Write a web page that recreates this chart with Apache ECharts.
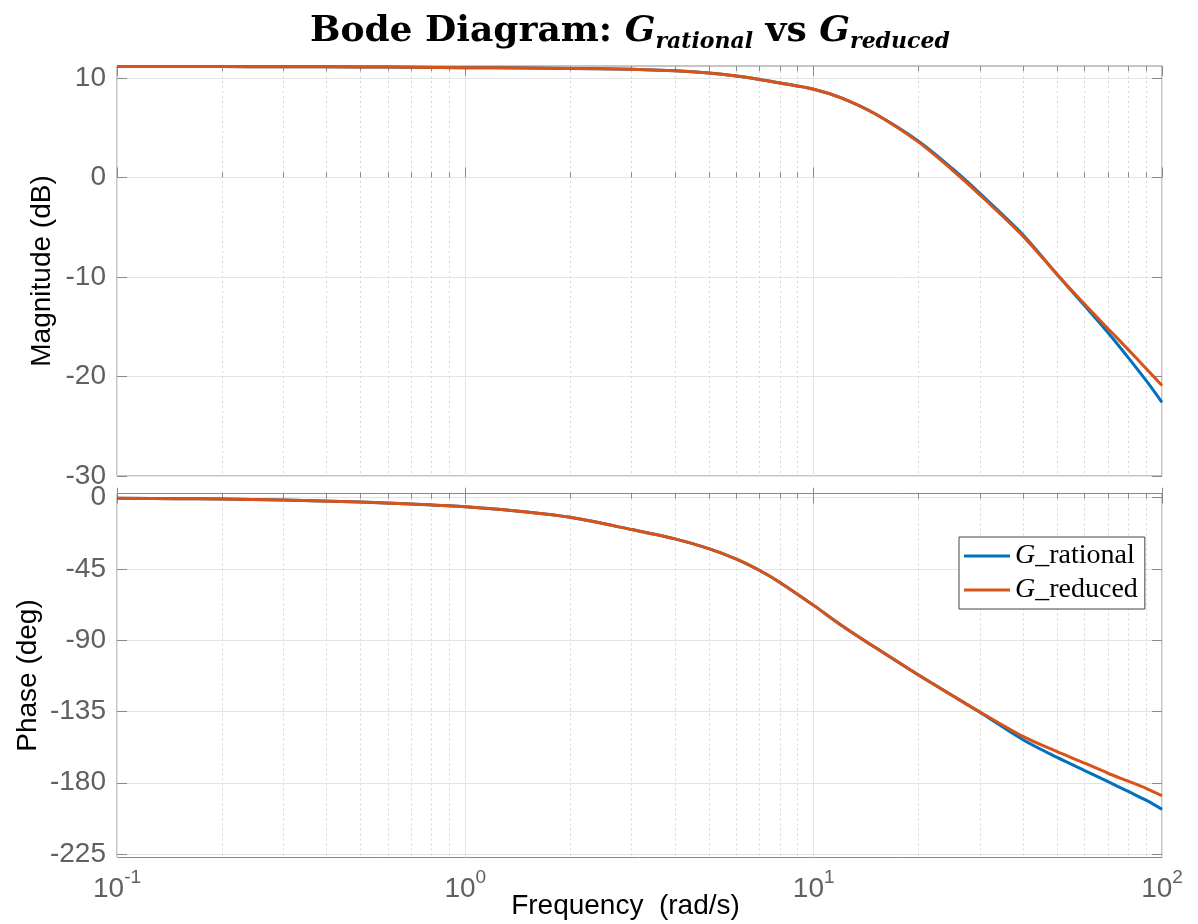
<!DOCTYPE html>
<html><head><meta charset="utf-8">
<script src="https://cdn.jsdelivr.net/npm/echarts@6/dist/echarts.min.js"></script>
<style>html,body{margin:0;padding:0;background:#fff}#c{width:1198px;height:924px}</style>
</head><body><div id="c"></div><script>
// ---- data ----
const freq = [0.1,0.15,0.2,0.3,0.5,0.7,1,1.5,2,3,4,5,6,7,8,10,12,15,20,25,30,40,50,60,70,80,90,100];
const magRational = [11.15,11.15,11.14,11.13,11.11,11.08,11.03,11.0,10.96,10.88,10.72,10.5,10.2,9.85,9.5,8.87,8.0,6.4,3.65,0.9,-1.6,-5.8,-9.75,-12.9,-15.6,-18.1,-20.4,-22.6];
const magReduced  = [11.15,11.15,11.14,11.13,11.11,11.08,11.03,11.0,10.96,10.88,10.72,10.5,10.2,9.85,9.5,8.87,8.0,6.4,3.55,0.75,-1.75,-5.95,-9.75,-12.75,-15.2,-17.3,-19.2,-20.9];
const phaseRational = [-0.4,-0.6,-0.8,-1.45,-2.7,-4.0,-5.7,-9.0,-12.4,-20.1,-26,-32.2,-38.8,-46,-53.5,-68,-80.5,-94.5,-112,-124.9,-135.5,-153,-164,-172.3,-179.3,-185.5,-191,-196.8];
const phaseReduced  = [-0.4,-0.6,-0.8,-1.45,-2.7,-4.0,-5.7,-9.0,-12.4,-20.1,-26,-32.2,-38.8,-46,-53.5,-68,-80.5,-94.5,-112,-124.9,-135.3,-150.9,-160.4,-167.6,-174,-179,-183.5,-188.2];
const seriesNames = ['G_rational','G_reduced'];
const magTicks = [-30,-20,-10,0,10];
const phaseTicks = [-225,-180,-135,-90,-45,0];
const decadeTicks = [0.1,1,10,100];
const minorTicks = [0.2,0.3,0.4,0.5,0.6,0.7,0.8,0.9,2,3,4,5,6,7,8,9,20,30,40,50,60,70,80,90];
const magRange = [-30, 11.2];
const phaseRange = [-227.2, 2.65];

const BLUE = '#0072BD', ORANGE = '#D95319';
const AX = '#8a8a8a', GRID = '#e4e4e4', MINOR = '#d6d6d6', LBL = '#606060';
const SANS = 'Liberation Sans', SERIF = 'DejaVu Serif', LSERIF = 'Liberation Serif';

const grids = [
  {left:117, top:66, width:1045, height:410},
  {left:117, top:493.5, width:1045, height:364}
];

const xAxes = [];
const yAxes = [];
grids.forEach((g, gi) => {
  const base = {type:'log', logBase:10, gridIndex:gi, min:0.1, max:100, axisLine:{show:false}};
  xAxes.push(Object.assign({}, base, {
    position:'bottom',
    axisTick:{show:true, inside:true, length:10, customValues:decadeTicks, lineStyle:{color:AX}},
    axisLabel:{show: gi === 1, customValues:decadeTicks, margin:11,
      formatter: v => '{b|10}{s|' + Math.round(Math.log10(v)) + '}',
      rich:{
        b:{fontFamily:SANS, fontSize:28, color:LBL, verticalAlign:'bottom'},
        s:{fontFamily:SANS, fontSize:19, color:LBL, verticalAlign:'bottom', padding:[0,0,16,0]}
      }},
    splitLine:{show:true, lineStyle:{color:GRID, width:1}},
    name: gi === 1 ? 'Frequency  (rad/s)' : '',
    nameLocation:'middle', nameGap:35, nameMoveOverlap:false,
    nameTextStyle:{fontFamily:SANS, fontSize:28, color:'#000', padding:[0,28,0,0]}
  }));
  xAxes.push(Object.assign({}, base, {
    position:'bottom',
    axisTick:{show:true, inside:true, length:5, customValues:minorTicks, lineStyle:{color:AX}},
    axisLabel:{show:false},
    splitLine:{show:true, lineStyle:{color:MINOR, width:1, type:[2,3]}}
  }));
  xAxes.push(Object.assign({}, base, {
    position:'top',
    axisTick:{show:true, inside:true, length:10, customValues:decadeTicks, lineStyle:{color:AX}},
    axisLabel:{show:false}, splitLine:{show:false}
  }));
  xAxes.push(Object.assign({}, base, {
    position:'top',
    axisTick:{show:true, inside:true, length:5, customValues:minorTicks, lineStyle:{color:AX}},
    axisLabel:{show:false}, splitLine:{show:false}
  }));
  const range = gi === 0 ? magRange : phaseRange;
  const ticks = gi === 0 ? magTicks : phaseTicks;
  yAxes.push({
    type:'value', gridIndex:gi, min:range[0], max:range[1], position:'left',
    axisLine:{show:false},
    axisTick:{show:true, inside:true, length:10, customValues:ticks, lineStyle:{color:AX}},
    axisLabel:{customValues:ticks, fontFamily:SANS, fontSize:28, color:LBL, margin:11},
    splitLine:{show:true, lineStyle:{color:GRID, width:1}},
    name: gi === 0 ? 'Magnitude (dB)' : 'Phase (deg)',
    nameLocation:'middle', nameGap: gi === 0 ? 61 : 75, nameMoveOverlap:false,
    nameTextStyle:{fontFamily:SANS, fontSize:28, color:'#000'}
  });
  yAxes.push({
    type:'value', gridIndex:gi, min:range[0], max:range[1], position:'right',
    axisLine:{show:false},
    axisTick:{show:true, inside:true, length:10, customValues:ticks, lineStyle:{color:AX}},
    axisLabel:{show:false}, splitLine:{show:false}
  });
});

function pairs(ys){ return freq.map((f,i) => [f, ys[i]]); }
function line(name, color, gi, ys){
  return {type:'line', name, xAxisIndex:gi*4, yAxisIndex:gi*2, data:pairs(ys),
    showSymbol:false, symbol:'none', smooth:0.3, color,
    lineStyle:{color, width:3}, z:3, animation:false};
}

const option = {
  animation:false,
  backgroundColor:'#fff',
  title:{
    text:'{b|Bode Diagram: }{i|G}{sub|rational}{b| vs }{i|G}{sub|reduced}',
    left:305, top:9,
    textStyle:{
      rich:{
        b:{fontFamily:SERIF, fontWeight:'bold', fontSize:36, color:'#000', verticalAlign:'top'},
        i:{fontFamily:SERIF, fontStyle:'italic', fontSize:36, color:'#000', verticalAlign:'top'},
        sub:{fontFamily:SERIF, fontStyle:'italic', fontSize:22, color:'#000', verticalAlign:'top', padding:[17,0,0,0]}
      }
    }
  },
  grid: grids.map(g => Object.assign({}, g, {show:true, borderColor:AX, borderWidth:1, backgroundColor:'rgba(0,0,0,0)', containLabel:false, outerBoundsMode:'none'})),
  xAxis: xAxes,
  yAxis: yAxes,
  legend:{
    data:seriesNames.map(n => ({name:n, icon:'rect'})), orient:'vertical', left:959, top:537,
    backgroundColor:'#fff', borderColor:'#444', borderWidth:1, borderRadius:0,
    padding:[5,7,5,5], itemGap:6, itemWidth:46, itemHeight:3,
    formatter: n => '{i|G}' + n.slice(1),
    textStyle:{fontFamily:LSERIF, fontSize:28, color:'#000', lineHeight:28,
      rich:{i:{fontFamily:LSERIF, fontStyle:'italic', fontSize:28, color:'#000', lineHeight:28}}}
  },
  series:[
    line(seriesNames[0], BLUE, 0, magRational),
    line(seriesNames[1], ORANGE, 0, magReduced),
    line(seriesNames[0], BLUE, 1, phaseRational),
    line(seriesNames[1], ORANGE, 1, phaseReduced)
  ]
};
const chart = echarts.init(document.getElementById('c'), null, {renderer:'canvas'});
chart.setOption(option);
</script></body></html>
